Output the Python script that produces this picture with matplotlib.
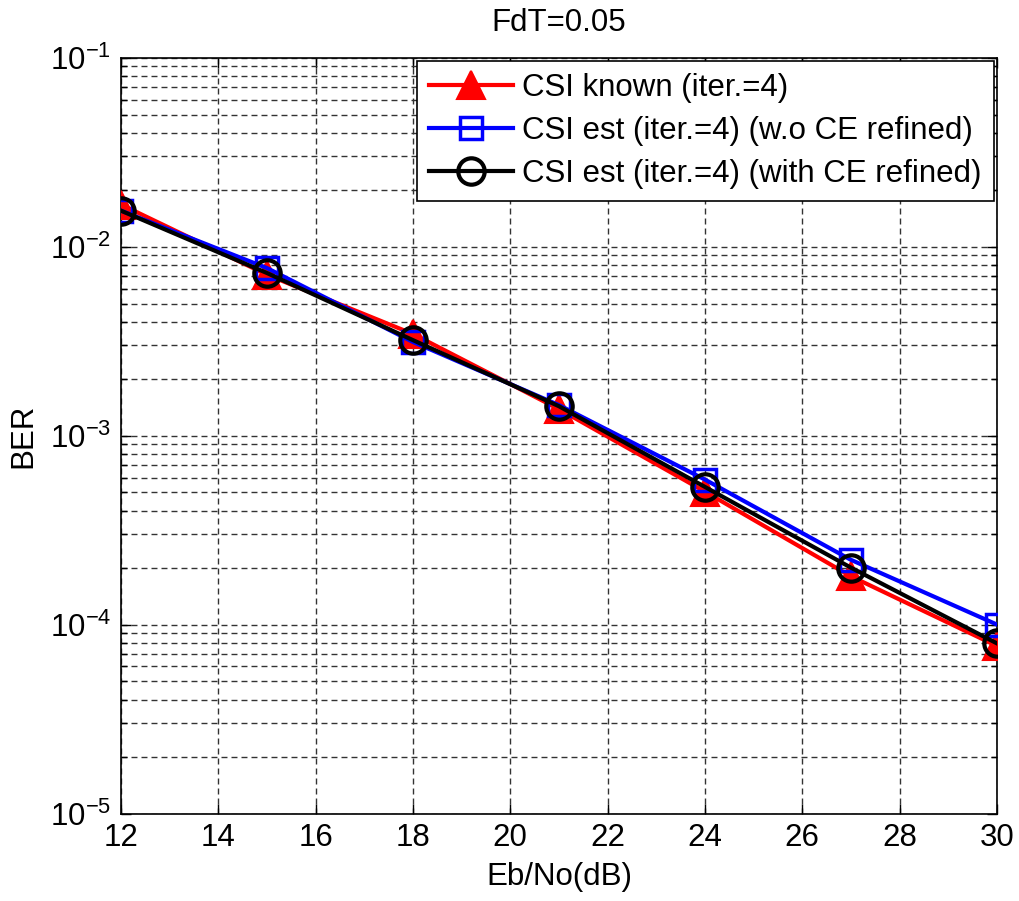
import math
import matplotlib
matplotlib.use("Agg")
import matplotlib.pyplot as plt
from matplotlib.ticker import LogLocator, FixedLocator, FuncFormatter, NullFormatter

plt.rcParams['font.family'] = ['Liberation Sans', 'DejaVu Sans']
plt.rcParams['mathtext.fontset'] = 'custom'
plt.rcParams['mathtext.rm'] = 'Liberation Sans'
plt.rcParams['mathtext.default'] = 'regular'

# Eb/No points (dB) and BER curves
ebno = [12, 15, 18, 21, 24, 27, 30]
ber_known = [1.67e-2, 7.1e-3, 3.45e-3, 1.38e-3, 5.05e-4, 1.8e-4, 7.7e-5]
ber_est_raw = [1.55e-2, 7.7e-3, 3.13e-3, 1.45e-3, 5.85e-4, 2.2e-4, 1.0e-4]
ber_est_ref = [1.55e-2, 7.25e-3, 3.2e-3, 1.43e-3, 5.35e-4, 2.0e-4, 7.95e-5]

labels = ['CSI known (iter.=4)',
          'CSI est (iter.=4) (w.o CE refined)',
          'CSI est (iter.=4) (with CE refined)']
title = 'FdT=0.05'
xlabel = 'Eb/No(dB)'
ylabel = 'BER'
xticks = [12, 14, 16, 18, 20, 22, 24, 26, 28, 30]

fig = plt.figure(figsize=(10.2, 9.01), dpi=100)
ax = fig.add_axes([0.1186, 0.0971, 0.8588, 0.8389])

fs = 22.5
ax.semilogy(ebno, ber_known, color='red', lw=3, marker='^', ms=20,
            mfc='red', mec='red', mew=1.5, label=labels[0], zorder=3)
ax.semilogy(ebno, ber_est_raw, color='blue', lw=3, marker='s', ms=16,
            mfc='none', mec='blue', mew=2.5, label=labels[1], zorder=4)
ax.semilogy(ebno, ber_est_ref, color='black', lw=3, marker='o', ms=19,
            mfc='none', mec='black', mew=3, label=labels[2], zorder=5)

ax.set_xlim(12, 30)
ax.set_ylim(1e-5, 1e-1)
ax.xaxis.set_major_locator(FixedLocator(xticks))
ax.yaxis.set_major_locator(LogLocator(base=10, numticks=10))
ax.yaxis.set_minor_locator(LogLocator(base=10, subs=range(2, 10), numticks=50))
ax.yaxis.set_minor_formatter(NullFormatter())


def decade(v, pos):
    e = int(round(math.log10(v)))
    return r'$10^{%d}$' % e


ax.yaxis.set_major_formatter(FuncFormatter(decade))
ax.xaxis.set_major_formatter(FuncFormatter(lambda v, p: '%d' % v))

dash = (0, (4.3, 2.9))
ax.grid(True, which='major', axis='both', color='#333333', lw=1.0, linestyle=dash)
ax.grid(True, which='minor', axis='y', color='#333333', lw=1.0, linestyle=dash)
ax.set_axisbelow(True)

ax.tick_params(which='both', direction='in', top=True, right=True,
               labelsize=fs, colors='black')
ax.tick_params(which='major', length=7, width=1, pad=7)
ax.tick_params(which='minor', length=4, width=1)
for sp in ax.spines.values():
    sp.set_linewidth(1.2)
    sp.set_color('black')

ax.set_title(title, fontsize=fs, pad=19)
ax.set_xlabel(xlabel, fontsize=fs, labelpad=6)
ax.set_ylabel(ylabel, fontsize=fs, labelpad=8)

leg = ax.legend(loc='upper right', fontsize=fs, fancybox=False, framealpha=1,
                edgecolor='black', borderaxespad=0.1, handlelength=2.7,
                handletextpad=0.3, labelspacing=0.42, borderpad=0.38)
leg.get_frame().set_linewidth(1.2)

fig.savefig('out.png', dpi=100, facecolor='white')
